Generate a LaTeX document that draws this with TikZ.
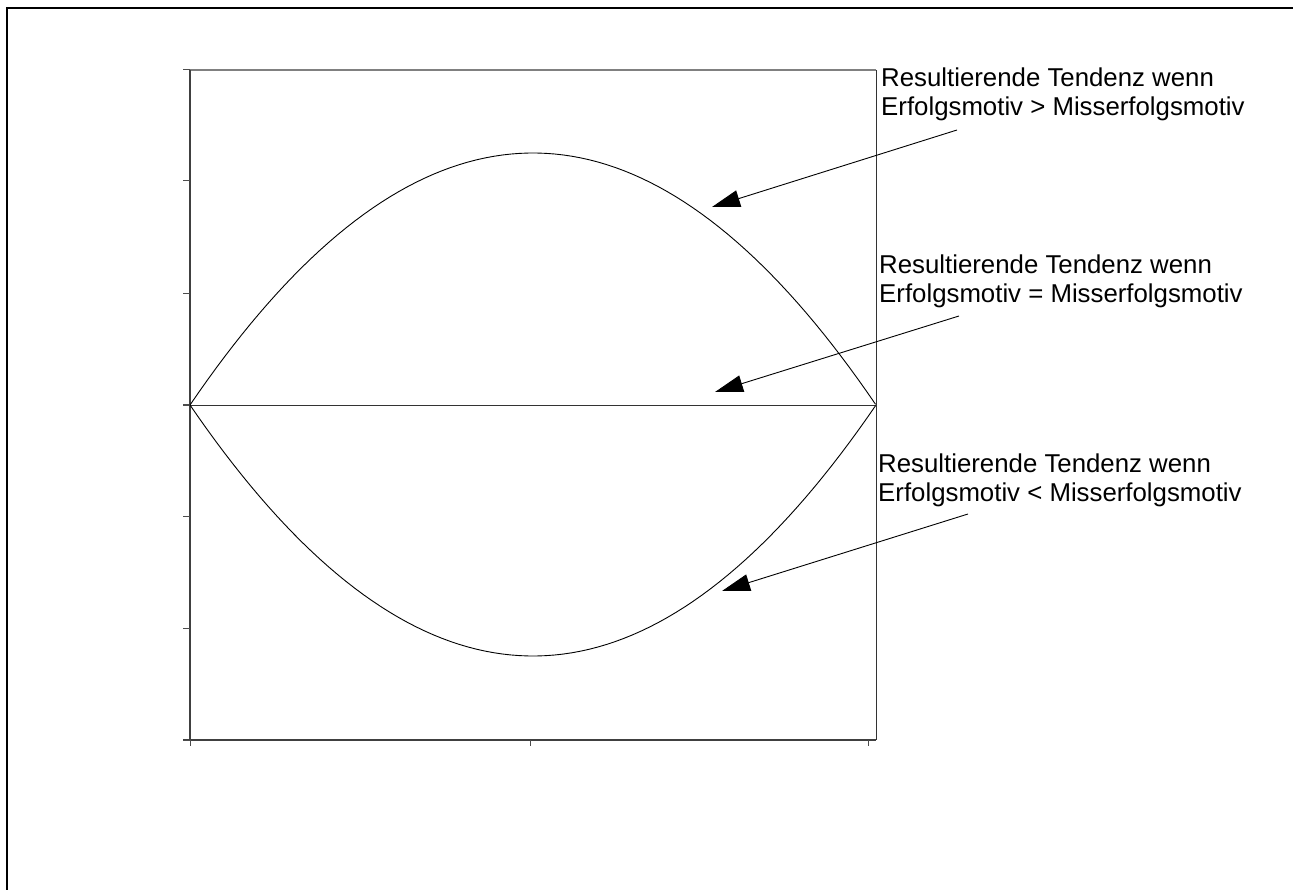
\documentclass[tikz,border=0pt]{standalone}
\usepackage{fontspec}
\setmainfont{Liberation Sans}
\usetikzlibrary{arrows.meta}
\begin{document}
\begin{tikzpicture}[x=1pt,y=-1pt,
  lbl/.style={anchor=north west, inner sep=0pt, align=left, font=\fontsize{25.8}{28.5}\selectfont},
  pointer/.style={line width=0.9pt, -{Triangle[length=28pt,width=17pt]}},
  curve/.style={line width=0.9pt, black},
  axis/.style={line width=1.4pt, color=black!75},
  gridline/.style={line width=1.3pt, color=black!50},
  rim/.style={line width=0.9pt, color=black!80},
  tickmark/.style={line width=1pt, color=black!70}]
\useasboundingbox (0,0) rectangle (1293,890);
% outer frame
\coordinate (fbl) at (7,890);
\coordinate (ftl) at (7,8);
\coordinate (ftr) at (1293,8);
\draw[line width=1.5pt] (fbl) -- (ftl) -- (ftr);
% plot frame
\coordinate (tl) at (190,70);
\coordinate (tr) at (876,70);
\coordinate (bl) at (190,740);
\coordinate (br) at (876,740);
\coordinate (zl) at (190,405);
\coordinate (zr) at (876,405);
\draw[gridline] (tl) -- (tr);
\draw[rim] (tr) -- (br);
\draw[rim] (zl) -- (zr);
\draw[axis] (tl) -- (bl);
\draw[axis] ([xshift=-7pt]bl) -- (br);
% ticks
\foreach \yy in {70,181,294,405,516,628,740}
  \draw[tickmark] (183,\yy) -- (190,\yy);
\foreach \xx in {190,530,868}
  \draw[tickmark] (\xx,740) -- (\xx,746);
% curves
\draw[curve] plot[variable=\t, domain=0:1, samples=80] ({190+686*\t},{405-252*4*\t*(1-\t)});
\draw[curve] plot[variable=\t, domain=0:1, samples=80] ({190+686*\t},{405+251*4*\t*(1-\t)});
% labels
\node[lbl] (l1) at (881,68) {Resultierende Tendenz wenn\\Erfolgsmotiv > Misserfolgsmotiv};
\node[lbl] (l2) at (879,255) {Resultierende Tendenz wenn\\Erfolgsmotiv = Misserfolgsmotiv};
\node[lbl] (l3) at (878,454) {Resultierende Tendenz wenn\\Erfolgsmotiv < Misserfolgsmotiv};
% arrows
\coordinate (s1) at (957,130);
\coordinate (t1) at (712,207);
\coordinate (s2) at (959,316);
\coordinate (t2) at (715,392);
\coordinate (s3) at (968,514);
\coordinate (t3) at (722,591);
\draw[pointer] (s1) -- (t1);
\draw[pointer] (s2) -- (t2);
\draw[pointer] (s3) -- (t3);
\end{tikzpicture}
\end{document}
